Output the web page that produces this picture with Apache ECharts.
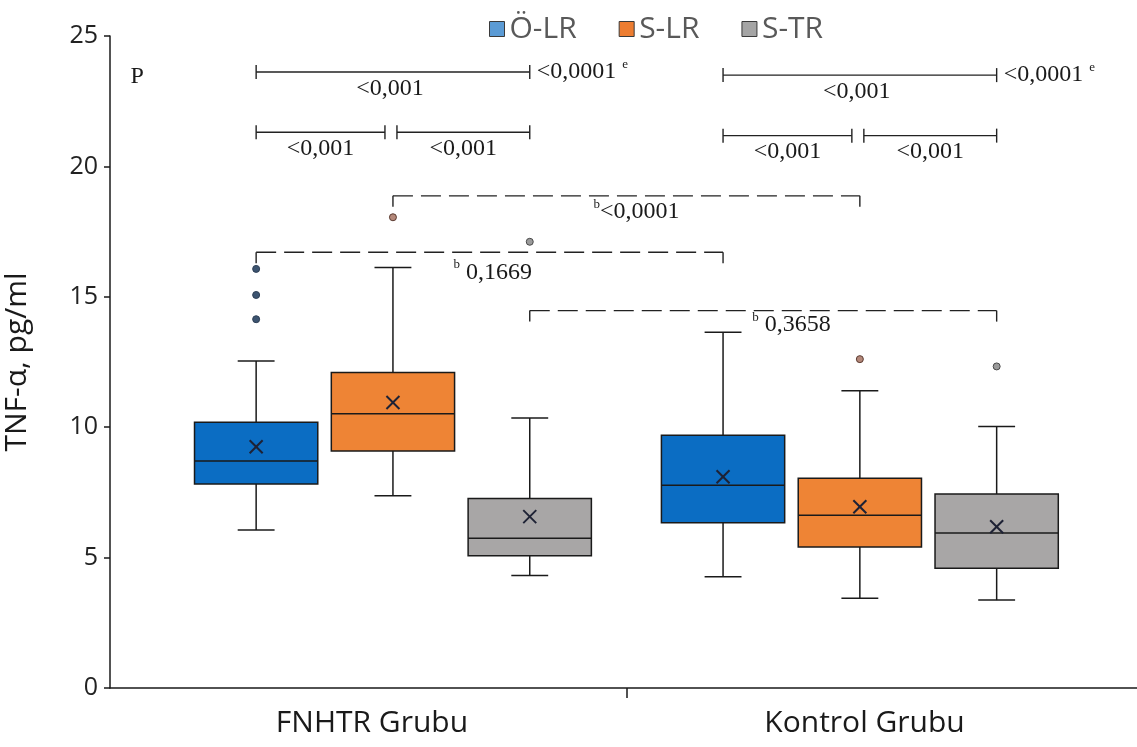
<!DOCTYPE html>
<html>
<head>
<meta charset="utf-8">
<script src="https://cdn.jsdelivr.net/npm/echarts@6/dist/echarts.min.js"></script>
<style>
  html, body { margin: 0; padding: 0; background: #fff; }
  #chart { width: 1137px; height: 747px; }
</style>
</head>
<body>
<div id="chart"></div>
<script>
// ---- data ----
const groups = ['FNHTR Grubu', 'Kontrol Grubu'];
const seriesNames = ['Ö-LR', 'S-LR', 'S-TR'];
// box statistics per group: [min, Q1, median, Q3, max]
const olrStats = [[6.06, 7.82, 8.70, 10.19, 12.54], [4.27, 6.34, 7.77, 9.69, 13.64]];
const slrStats = [[7.37, 9.09, 10.52, 12.10, 16.12], [3.44, 5.41, 6.62, 8.04, 11.40]];
const strStats = [[4.31, 5.07, 5.74, 7.27, 10.35], [3.37, 4.59, 5.94, 7.44, 10.03]];
// means per group
const olrMeans = [9.25, 8.10];
const slrMeans = [10.95, 6.95];
const strMeans = [6.57, 6.18];
// outliers: [group index, value]
const olrOutliers = [[0, 16.07], [0, 15.07], [0, 14.14]];
const slrOutliers = [[0, 18.05], [1, 12.61]];
const strOutliers = [[0, 17.11], [1, 12.33]];
// p values within each group
const pOverall = ['<0,0001', '<0,0001'];
const pOlrVsStr = ['<0,001', '<0,001'];
const pOlrVsSlr = ['<0,001', '<0,001'];
const pSlrVsStr = ['<0,001', '<0,001'];
// p values between groups, per series (Ö-LR, S-LR, S-TR)
const pBetween = ['0,1669', '<0,0001', '0,3658'];

// ---- layout & style ----
const boxFill = ['#0B6DC3', '#EE8435', '#A8A6A6'];
const legendFill = ['#5B9BD5', '#ED7D31', '#A5A5A5'];
const outlierFill = ['#3C5470', '#B4887A', '#9A9A9A'];
const outlierEdge = ['#2E3F55', '#5A3A30', '#4A4A4A'];
const offsets = [-0.293, 0, 0.293];   // position of each series inside a group
const boxWidth = 0.264;
const capWidth = 0.079;
const ink = '#1a1a1a';
const serif = '"Liberation Serif", "Times New Roman", serif';
const sans = '"Open Sans", "Noto Sans", sans-serif';

function boxRenderer(si) {
  return function (params, api) {
    const x = api.value(0) + offsets[si];
    const pt = v => api.coord([x, v]);
    const [cx, yMin] = pt(api.value(1));
    const yQ1 = pt(api.value(2))[1];
    const yMed = pt(api.value(3))[1];
    const yQ3 = pt(api.value(4))[1];
    const yMax = pt(api.value(5))[1];
    const yMean = pt(api.value(6))[1];
    const bw = api.size([boxWidth, 0])[0];
    const cw = api.size([capWidth, 0])[0];
    const ln = { stroke: ink, lineWidth: 1.5 };
    const m = 6.5;
    const line = (x1, y1, x2, y2, st) => ({ type: 'line', shape: { x1, y1, x2, y2 }, style: st || ln });
    return {
      type: 'group',
      children: [
        line(cx, yMax, cx, yQ3),
        line(cx, yQ1, cx, yMin),
        line(cx - cw / 2, yMax, cx + cw / 2, yMax),
        line(cx - cw / 2, yMin, cx + cw / 2, yMin),
        { type: 'rect', shape: { x: cx - bw / 2, y: yQ3, width: bw, height: yQ1 - yQ3 },
          style: { fill: boxFill[si], stroke: ink, lineWidth: 1.5 } },
        line(cx - bw / 2, yMed, cx + bw / 2, yMed),
        line(cx - m, yMean - m, cx + m, yMean + m, { stroke: '#1e2235', lineWidth: 2 }),
        line(cx - m, yMean + m, cx + m, yMean - m, { stroke: '#1e2235', lineWidth: 2 })
      ]
    };
  };
}

// bracket levels (axis units)
const topLevels = [23.62, 23.50];
const pairLevels = [21.31, 21.18];
const betweenLevels = [16.71, 18.87, 14.47];
const betweenLabelDx = [-36, -33, -11];
const betweenLabelDy = [20, 16, 14];

const rich = {
  t: { fontSize: 24, fontFamily: serif, fill: ink, lineHeight: 28 },
  s: { fontSize: 13, fontFamily: serif, fill: ink, lineHeight: 28, verticalAlign: 'top' }
};

function annotationRenderer(params, api) {
  const c = (g, s) => api.coord([g + offsets[s], 0])[0];
  const yp = v => api.coord([0, v])[1];
  const st = dash => ({ stroke: '#222', lineWidth: 1.4, lineDash: dash || null });
  const line = (x1, y1, x2, y2, dash) => ({ type: 'line', shape: { x1, y1, x2, y2 }, style: st(dash) });
  const text = (x, y, str, align) => ({
    type: 'text', x, y,
    style: { text: str, rich, fill: ink, font: '24px ' + serif, align: align || 'center', verticalAlign: 'middle' }
  });
  const kids = [];
  const tick = 7;
  const seg = (x1, x2, y) => {
    kids.push(line(x1, y, x2, y), line(x1, y - tick, x1, y + tick), line(x2, y - tick, x2, y + tick));
  };

  const pPos = api.coord([-0.548, 23.43]);
  kids.push(text(pPos[0], pPos[1], 'P'));

  for (let g = 0; g < groups.length; g++) {
    const x0 = c(g, 0), x1 = c(g, 1), x2 = c(g, 2);
    // Ö-LR vs S-TR, with the overall test to the right
    const yT = yp(topLevels[g]);
    seg(x0, x2, yT);
    kids.push(text((x0 + x2) / 2 - 3, yT + 17, pOlrVsStr[g]));
    kids.push(text(x2 + 7, yT, '{t|' + pOverall[g] + '} {s|e}', 'left'));
    // neighbouring pairs
    const yP = yp(pairLevels[g]);
    const a2 = x1 - 8, b1 = x1 + 4;
    seg(x0, a2, yP);
    seg(b1, x2, yP);
    kids.push(text((x0 + a2) / 2, yP + 16, pOlrVsSlr[g]));
    kids.push(text((b1 + x2) / 2, yP + 16, pSlrVsStr[g]));
  }

  // same series, FNHTR vs Kontrol
  const drop = 11;
  for (let s = 0; s < seriesNames.length; s++) {
    const xa = c(0, s), xb = c(1, s);
    const y = yp(betweenLevels[s]);
    kids.push(line(xa, y, xb, y, [20, 8]));
    kids.push(line(xa, y, xa, y + drop), line(xb, y, xb, y + drop));
    const sep = pBetween[s].startsWith('<') ? '' : ' ';
    kids.push(text((xa + xb) / 2 + betweenLabelDx[s], y + betweenLabelDy[s],
      '{s|b}{t|' + sep + pBetween[s] + '}', 'left'));
  }
  return { type: 'group', children: kids };
}

const statsList = [olrStats, slrStats, strStats];
const meansList = [olrMeans, slrMeans, strMeans];
const outlierList = [olrOutliers, slrOutliers, strOutliers];

const series = [];
seriesNames.forEach((name, si) => {
  series.push({
    name, type: 'custom', coordinateSystem: 'cartesian2d',
    itemStyle: { color: legendFill[si] },
    renderItem: boxRenderer(si),
    data: statsList[si].map((s, g) => [g, ...s, meansList[si][g]]),
    z: 3
  });
  series.push({
    name, type: 'scatter', symbol: 'circle', symbolSize: 7,
    itemStyle: { color: outlierFill[si], borderColor: outlierEdge[si], borderWidth: 1, opacity: 1 },
    data: outlierList[si].map(([g, v]) => [g + offsets[si], v]),
    z: 4
  });
});
series.push({
  type: 'custom', coordinateSystem: 'cartesian2d', silent: true,
  renderItem: annotationRenderer, data: [[0, 0]], z: 5
});

const chart = echarts.init(document.getElementById('chart'), null, { renderer: 'canvas' });
chart.setOption({
  animation: false,
  backgroundColor: '#ffffff',
  legend: {
    top: 9, left: 484, itemWidth: 15, itemHeight: 15, itemGap: 42, icon: 'rect',
    textStyle: { fontSize: 30, color: '#595959', fontFamily: sans },
    data: seriesNames.map((n, i) => ({
      name: n, itemStyle: { color: legendFill[i], borderColor: '#3a3a3a', borderWidth: 1 }
    }))
  },
  grid: { left: 110, top: 36, width: 1030, bottom: 59, containLabel: false, outerBoundsMode: 'none' },
  xAxis: {
    type: 'value', min: -0.606, max: 1.6,
    splitLine: { show: false },
    axisLine: { show: true, onZero: false, lineStyle: { color: ink, width: 1.5 } },
    axisTick: { show: true, customValues: [0.5], length: 10, lineStyle: { color: ink, width: 1.5 } },
    axisLabel: {
      customValues: [-0.045, 1.01],
      formatter: v => groups[Math.round(v)],
      fontSize: 30, color: ink, fontFamily: sans, margin: 20
    }
  },
  yAxis: {
    type: 'value', min: 0, max: 25, interval: 5,
    name: 'TNF-α, pg/ml', nameLocation: 'middle', nameGap: 78,
    nameTextStyle: { fontSize: 30, color: ink, fontFamily: sans },
    splitLine: { show: false },
    axisLine: { show: true, onZero: false, lineStyle: { color: ink, width: 1.5 } },
    axisTick: { show: true, length: 6, lineStyle: { color: ink, width: 1.5 } },
    axisLabel: { fontSize: 25, color: '#222', fontFamily: sans, margin: 12 }
  },
  series
});
</script>
</body>
</html>
